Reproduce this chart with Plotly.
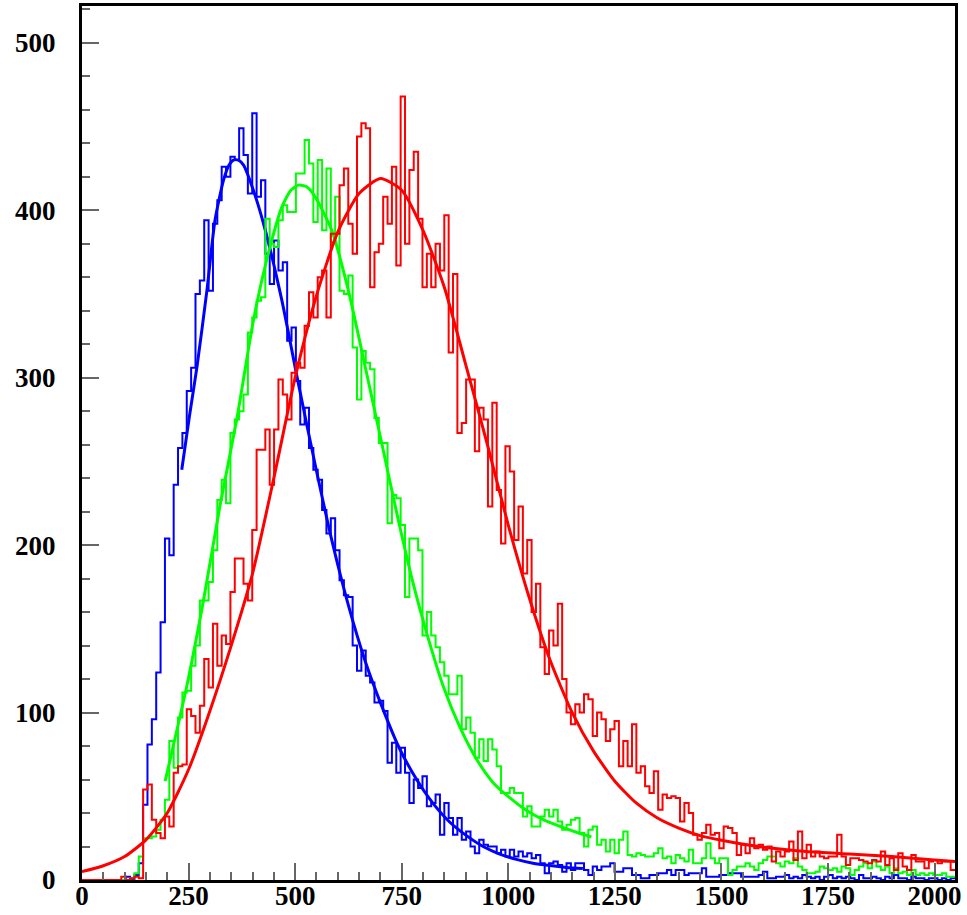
import plotly.graph_objects as go

# ---------------- data ----------------
x_min, x_max = 0, 2048
n_bins = 200
bin_width = (x_max - x_min) / n_bins
bin_edges = [x_min + i * bin_width for i in range(n_bins + 1)]

blue_counts = [
    0, 0, 0, 0, 0, 0, 0, 0, 0, 0,
    2, 0, 3, 10, 45, 81, 96, 124, 154, 204,
    194, 236, 258, 267, 292, 306, 350, 358, 394, 352,
    392, 406, 426, 420, 432, 430, 449, 433, 410, 458,
    408, 418, 374, 356, 382, 364, 369, 322, 330, 298,
    272, 282, 258, 245, 239, 221, 207, 216, 197, 179,
    170, 169, 140, 125, 137, 122, 118, 106, 107, 101,
    70, 82, 64, 79, 64, 46, 60, 55, 62, 44,
    46, 51, 27, 46, 37, 27, 37, 24, 29, 20,
    16, 24, 21, 20, 20, 16, 18, 14, 18, 14,
    17, 14, 16, 13, 15, 10, 4, 10, 11, 9,
    5, 10, 6, 10, 10, 6, 3, 8, 6, 8,
    8, 10, 5, 5, 7, 7, 3, 3, 1, 1,
    3, 3, 4, 4, 6, 3, 6, 6, 3, 4,
    4, 4, 7, 2, 2, 2, 3, 3, 4, 4,
    4, 2, 2, 2, 2, 3, 5, 1, 1, 2,
    2, 3, 1, 2, 1, 3, 2, 1, 2, 0,
    2, 3, 1, 2, 1, 2, 1, 0, 3, 1,
    1, 2, 1, 0, 2, 1, 3, 1, 1, 0,
    2, 1, 1, 0, 1, 1, 0, 1, 0, 1,
]

green_counts = [
    0, 0, 0, 0, 0, 0, 0, 0, 0, 0,
    0, 1, 4, 14, 25, 25, 26, 30, 36, 48,
    83, 67, 97, 112, 113, 128, 140, 167, 167, 178,
    197, 227, 239, 225, 267, 275, 280, 290, 327, 336,
    346, 348, 395, 380, 378, 394, 403, 399, 399, 422,
    422, 442, 428, 393, 430, 388, 425, 381, 408, 352,
    350, 361, 318, 287, 316, 309, 305, 276, 261, 261,
    213, 230, 228, 212, 169, 204, 204, 197, 146, 160,
    146, 139, 130, 122, 111, 111, 122, 90, 97, 88,
    73, 84, 71, 84, 78, 68, 52, 52, 55, 52,
    52, 38, 44, 32, 32, 38, 42, 38, 42, 35,
    30, 33, 36, 37, 28, 20, 30, 32, 21, 24,
    17, 24, 16, 24, 29, 15, 14, 16, 15, 14,
    14, 16, 19, 13, 14, 10, 15, 13, 11, 18,
    10, 10, 13, 22, 13, 10, 13, 13, 3, 6,
    8, 8, 10, 8, 6, 10, 12, 14, 14, 10,
    8, 11, 10, 13, 8, 6, 4, 4, 5, 8,
    7, 6, 7, 5, 8, 7, 3, 6, 8, 10,
    7, 11, 8, 6, 8, 4, 7, 4, 5, 3,
    6, 3, 4, 3, 4, 3, 3, 4, 2, 2,
]

red_counts = [
    0, 0, 0, 0, 0, 0, 0, 0, 0, 2,
    0, 1, 2, 1, 54, 57, 36, 28, 25, 38,
    32, 64, 68, 69, 102, 98, 88, 104, 132, 115,
    153, 128, 146, 141, 172, 192, 192, 177, 167, 209,
    257, 257, 269, 236, 269, 299, 290, 275, 303, 309,
    306, 331, 351, 336, 360, 364, 336, 386, 386, 415,
    425, 392, 374, 444, 452, 449, 354, 375, 380, 408,
    392, 426, 367, 468, 380, 424, 435, 395, 354, 374,
    354, 380, 364, 397, 315, 362, 267, 273, 299, 299,
    256, 282, 275, 223, 285, 233, 201, 259, 244, 203,
    223, 183, 203, 160, 177, 139, 123, 149, 140, 165,
    120, 100, 93, 105, 100, 111, 108, 86, 100, 96,
    83, 90, 95, 68, 83, 68, 93, 64, 68, 56,
    52, 65, 42, 51, 49, 50, 49, 35, 46, 40,
    27, 24, 28, 33, 27, 28, 19, 32, 31, 28,
    15, 21, 16, 25, 19, 21, 18, 20, 11, 17,
    14, 17, 23, 12, 29, 13, 21, 14, 17, 14,
    13, 14, 14, 27, 14, 9, 13, 13, 12, 11,
    10, 12, 11, 17, 9, 13, 6, 16, 8, 6,
    15, 11, 11, 7, 11, 12, 10, 11, 11, 6,
]

# fitted curves
blue_fit_x = [234, 252, 270, 293, 312, 332, 345, 355, 367, 379, 402, 428, 469, 508, 547,
              586, 625, 664, 703, 744, 785, 824, 863, 902, 941, 980, 1019, 1058, 1097,
              1137, 1175]
blue_fit_y = [245, 277, 307, 352, 394, 418, 427, 430, 430, 427, 412, 390, 346, 296, 248,
              203, 164, 131, 104, 79, 60, 45.6, 34.5, 26.5, 20, 15.5, 12.3, 10, 8.6,
              7.5, 6.8]

green_fit_x = [195, 246, 285, 324, 363, 402, 433, 469, 490, 508, 527, 547, 586, 625, 664,
               703, 742, 777, 808, 847, 887, 926, 965, 1004, 1043, 1082, 1121, 1160, 1195]
green_fit_y = [59, 116, 167, 224, 275, 334, 370, 402, 412, 415, 414, 408, 388, 352, 307,
               261, 215, 177, 148, 116, 91, 72, 58, 49, 41.5, 36, 32, 28.5, 25.7]

red_fit_x = [0, 50, 100, 150, 200, 250, 300, 350, 400, 450, 500, 550, 600, 650, 700,
             750, 800, 850, 900, 950, 1000, 1050, 1100, 1150, 1200, 1250, 1300, 1350,
             1400, 1450, 1500, 1600, 1700, 1800, 1900, 2000, 2048]
red_fit_y = [5, 8.5, 14, 24, 40, 66, 101, 140, 183, 240, 300, 349, 387, 410, 419,
             412, 388, 354, 308, 261, 212, 168, 130, 100, 77, 59, 46, 37,
             31, 26.5, 23.7, 19.5, 17, 15.5, 14, 12, 11]

x_ticks = [0, 250, 500, 750, 1000, 1250, 1500, 1750, 2000]
y_ticks = [0, 100, 200, 300, 400, 500]

# ---------------- figure ----------------
def hist_trace(counts, color):
    xs = bin_edges[:-1] + [bin_edges[-1]]
    ys = counts + [counts[-1]]
    return go.Scatter(x=xs, y=ys, mode="lines", line=dict(color=color, width=2, shape="hv"),
                      hoverinfo="skip", showlegend=False)

def fit_trace(xs, ys, color):
    return go.Scatter(x=xs, y=ys, mode="lines",
                      line=dict(color=color, width=3, shape="spline", smoothing=0.6),
                      hoverinfo="skip", showlegend=False)

fig = go.Figure()
fig.add_trace(hist_trace(blue_counts, "#0000ff"))
fig.add_trace(fit_trace(blue_fit_x, blue_fit_y, "#0000ff"))
fig.add_trace(hist_trace(green_counts, "#00ff00"))
fig.add_trace(fit_trace(green_fit_x, green_fit_y, "#00ff00"))
fig.add_trace(hist_trace(red_counts, "#ff0000"))
fig.add_trace(fit_trace(red_fit_x, red_fit_y, "#ff0000"))

tick_font = dict(family="Liberation Serif, Times New Roman, serif", size=27,
                 color="black", weight="bold")

fig.update_layout(
    width=967, height=915,
    margin=dict(l=82, r=12, t=6, b=35, autoexpand=False),
    paper_bgcolor="white", plot_bgcolor="white",
    xaxis=dict(range=[x_min, x_max], tickvals=x_ticks, ticktext=[str(v) for v in x_ticks],
               ticks="inside", ticklen=17, tickwidth=1.5, tickcolor="#666",
               minor=dict(dtick=50, ticks="inside", ticklen=8, tickwidth=1.5, tickcolor="#666",
                          showgrid=False),
               showgrid=False, zeroline=False, showline=True, linecolor="black",
               linewidth=3, mirror=True, tickfont=tick_font, ticklabelstandoff=-10,
               automargin=False),
    yaxis=dict(range=[0, 522], tickvals=y_ticks, ticktext=[str(v) for v in y_ticks],
               ticks="inside", ticklen=17, tickwidth=1.5, tickcolor="#666",
               minor=dict(dtick=20, ticks="inside", ticklen=8, tickwidth=1.5, tickcolor="#666",
                          showgrid=False),
               showgrid=False, zeroline=False, showline=True, linecolor="black",
               linewidth=3, mirror=True, tickfont=tick_font, ticklabelstandoff=18,
               automargin=False),
)

fig.write_html("out.html")
